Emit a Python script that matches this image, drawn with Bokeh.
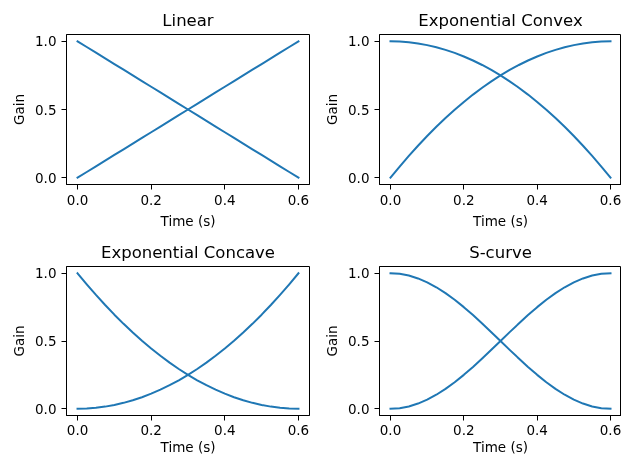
from bokeh.plotting import figure
from bokeh.models import Range1d, FixedTicker
from bokeh.layouts import column, row
from bokeh.embed import file_html
from bokeh.resources import INLINE

# ---- data ----
time = [0.0, 0.025, 0.05, 0.075, 0.1, 0.125, 0.15, 0.175, 0.2, 0.225, 0.25, 0.275, 0.3,
        0.325, 0.35, 0.375, 0.4, 0.425, 0.45, 0.475, 0.5, 0.525, 0.55, 0.575, 0.6]

linear_in = [0.0, 0.0417, 0.0833, 0.125, 0.1667, 0.2083, 0.25, 0.2917, 0.3333, 0.375, 0.4167, 0.4583, 0.5,
             0.5417, 0.5833, 0.625, 0.6667, 0.7083, 0.75, 0.7917, 0.8333, 0.875, 0.9167, 0.9583, 1.0]
linear_out = [1.0, 0.9583, 0.9167, 0.875, 0.8333, 0.7917, 0.75, 0.7083, 0.6667, 0.625, 0.5833, 0.5417, 0.5,
              0.4583, 0.4167, 0.375, 0.3333, 0.2917, 0.25, 0.2083, 0.1667, 0.125, 0.0833, 0.0417, 0.0]

convex_in = [0.0, 0.0816, 0.1597, 0.2344, 0.3056, 0.3733, 0.4375, 0.4983, 0.5556, 0.6094, 0.6597, 0.7066, 0.75,
             0.7899, 0.8264, 0.8594, 0.8889, 0.9149, 0.9375, 0.9566, 0.9722, 0.9844, 0.9931, 0.9983, 1.0]
convex_out = [1.0, 0.9983, 0.9931, 0.9844, 0.9722, 0.9566, 0.9375, 0.9149, 0.8889, 0.8594, 0.8264, 0.7899, 0.75,
              0.7066, 0.6597, 0.6094, 0.5556, 0.4983, 0.4375, 0.3733, 0.3056, 0.2344, 0.1597, 0.0816, 0.0]

concave_in = [0.0, 0.0017, 0.0069, 0.0156, 0.0278, 0.0434, 0.0625, 0.0851, 0.1111, 0.1406, 0.1736, 0.2101, 0.25,
              0.2934, 0.3403, 0.3906, 0.4444, 0.5017, 0.5625, 0.6267, 0.6944, 0.7656, 0.8403, 0.9184, 1.0]
concave_out = [1.0, 0.9184, 0.8403, 0.7656, 0.6944, 0.6267, 0.5625, 0.5017, 0.4444, 0.3906, 0.3403, 0.2934, 0.25,
               0.2101, 0.1736, 0.1406, 0.1111, 0.0851, 0.0625, 0.0434, 0.0278, 0.0156, 0.0069, 0.0017, 0.0]

scurve_in = [0.0, 0.0043, 0.0170, 0.0381, 0.0670, 0.1033, 0.1464, 0.1956, 0.25, 0.3087, 0.3706, 0.4347, 0.5,
             0.5653, 0.6294, 0.6913, 0.75, 0.8044, 0.8536, 0.8967, 0.9330, 0.9619, 0.9830, 0.9957, 1.0]
scurve_out = [1.0, 0.9957, 0.9830, 0.9619, 0.9330, 0.8967, 0.8536, 0.8044, 0.75, 0.6913, 0.6294, 0.5653, 0.5,
              0.4347, 0.3706, 0.3087, 0.25, 0.1956, 0.1464, 0.1033, 0.0670, 0.0381, 0.0170, 0.0043, 0.0]

titles = ["Linear", "Exponential Convex", "Exponential Concave", "S-curve"]
x_ticks = [0.0, 0.2, 0.4, 0.6]
x_tick_labels = ["0.0", "0.2", "0.4", "0.6"]
y_ticks = [0.0, 0.5, 1.0]
y_tick_labels = ["0.0", "0.5", "1.0"]
x_label = "Time (s)"
y_label = "Gain"

LINE = "#1f77b4"
FONT = "DejaVu Sans"


def make(title, y_in, y_out, width, height, right, bottom, tick_std, label_std):
    p = figure(
        width=width, height=height,
        x_range=Range1d(-0.03, 0.63), y_range=Range1d(-0.05, 1.05),
        output_backend="svg", toolbar_location=None,
        min_border_left=55, min_border_right=right,
        min_border_top=24, min_border_bottom=bottom,
        background_fill_color="white", border_fill_color="white",
    )
    p.title.text = title
    p.title.text_font = FONT
    p.title.text_font_size = "16.5px"
    p.title.text_font_style = "normal"
    p.title.text_color = "black"
    p.title.align = "center"
    p.title.vertical_align = "top"
    p.title.standoff = 5
    p.outline_line_color = "black"
    p.outline_line_width = 1
    p.outline_line_alpha = 1
    p.grid.visible = False

    p.line(time, y_in, line_color=LINE, line_width=2, line_join="round", line_cap="square")
    p.line(time, y_out, line_color=LINE, line_width=2, line_join="round", line_cap="square")

    p.xaxis.ticker = FixedTicker(ticks=x_ticks)
    p.xaxis.major_label_overrides = dict(zip(x_ticks, x_tick_labels))
    p.yaxis.ticker = FixedTicker(ticks=y_ticks)
    p.yaxis.major_label_overrides = dict(zip(y_ticks, y_tick_labels))
    p.xaxis.axis_label = x_label
    p.yaxis.axis_label = y_label
    for ax in (p.xaxis, p.yaxis):
        ax.axis_line_color = "black"
        ax.axis_line_width = 1
        ax.major_tick_line_color = "black"
        ax.major_tick_line_width = 1
        ax.major_tick_in = 0
        ax.major_tick_out = 5
        ax.minor_tick_line_color = None
        ax.major_label_text_font = FONT
        ax.major_label_text_font_size = "13.5px"
        ax.major_label_text_color = "black"
        ax.major_label_standoff = 5
        ax.axis_label_text_font = FONT
        ax.axis_label_text_font_size = "13.5px"
        ax.axis_label_text_font_style = "normal"
        ax.axis_label_text_color = "black"
        ax.axis_label_standoff = 5
    p.xaxis.major_label_standoff = tick_std
    p.xaxis.axis_label_standoff = label_std
    return p


p1 = make(titles[0], linear_in, linear_out, 313, 232, 12, 56, 5, 5)
p2 = make(titles[1], convex_in, convex_out, 300, 232, 0, 56, 5, 5)
p3 = make(titles[2], concave_in, concave_out, 313, 217, 12, 42, 4, 1)
p4 = make(titles[3], scurve_in, scurve_out, 300, 217, 0, 42, 4, 1)

layout = column(row(p1, p2), row(p3, p4),
                styles={"position": "fixed", "top": "8px", "left": "8px"})

open("out.html", "w").write(file_html(layout, INLINE))
